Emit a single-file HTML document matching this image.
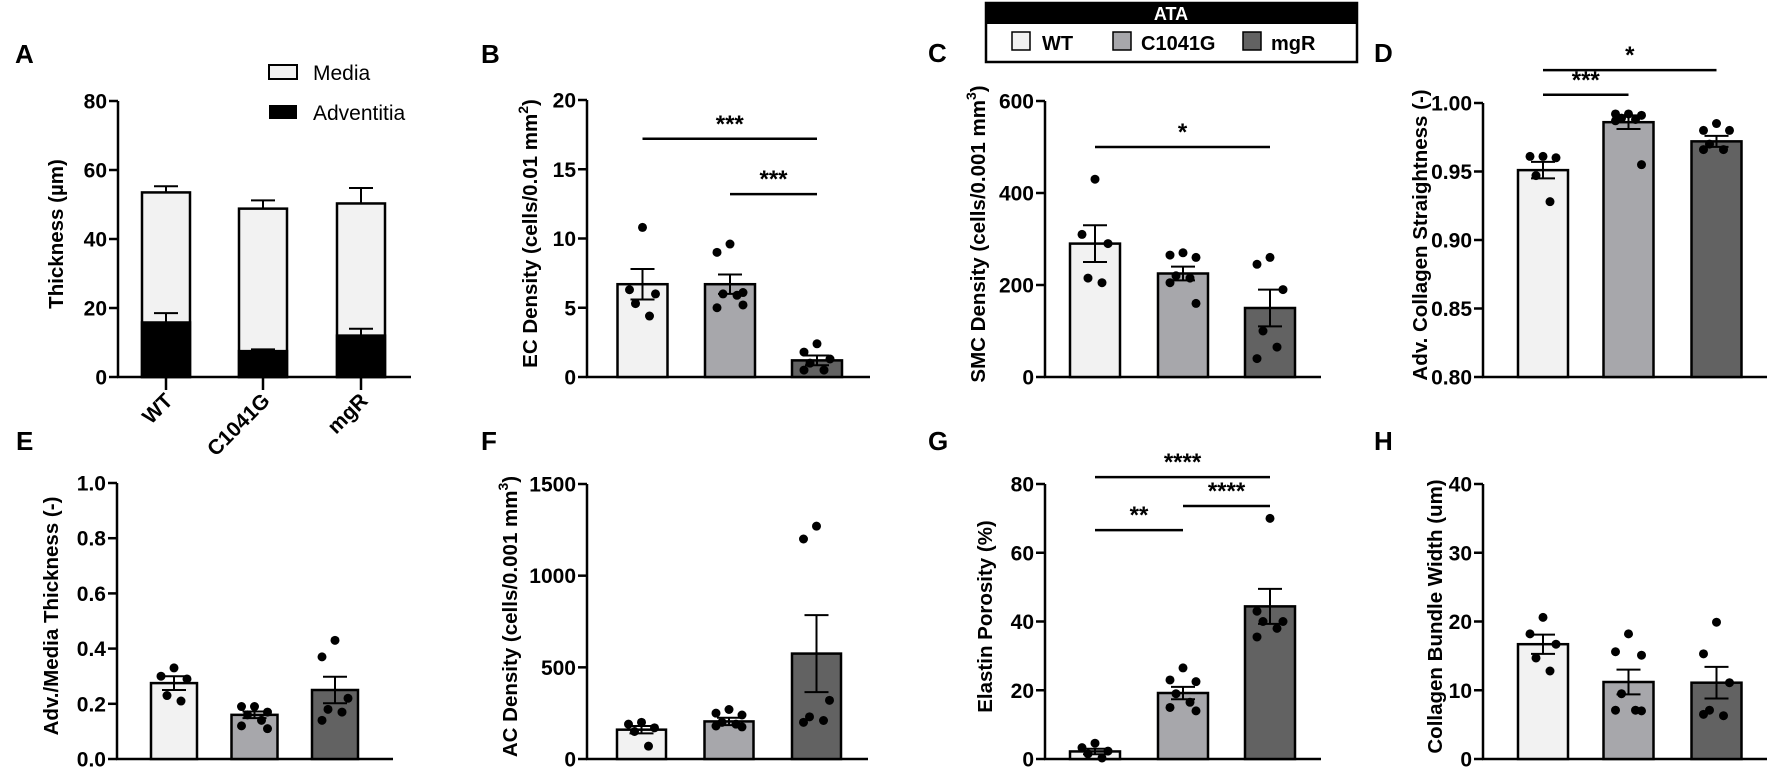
<!DOCTYPE html>
<html><head><meta charset="utf-8">
<style>
body{margin:0;background:#fff;}
svg{display:block;font-family:"Liberation Sans",Arial,sans-serif;}
</style></head>
<body>
<svg id="fig" width="1772" height="779" viewBox="0 0 1772 779" xmlns="http://www.w3.org/2000/svg">
<g font-weight="bold" font-size="26">
<text x="15" y="63">A</text>
<text x="481" y="63">B</text>
<text x="928" y="62">C</text>
<text x="1374" y="62">D</text>
<text x="16" y="450">E</text>
<text x="481" y="450">F</text>
<text x="928" y="450">G</text>
<text x="1374" y="450">H</text>
</g>
<g>
<rect x="986" y="3" width="371" height="59" fill="#fff" stroke="#000" stroke-width="2.5"/>
<rect x="986" y="3" width="371" height="21" fill="#000"/>
<text x="1171" y="20" fill="#fff" font-weight="bold" font-size="18" text-anchor="middle">ATA</text>
<rect x="1012" y="32" width="18" height="18" fill="#f2f2f2" stroke="#000" stroke-width="1.5"/>
<text x="1042" y="50" font-weight="bold" font-size="20">WT</text>
<rect x="1113" y="32" width="18" height="18" fill="#a7a7ab" stroke="#000" stroke-width="1.5"/>
<text x="1141" y="50" font-weight="bold" font-size="20">C1041G</text>
<rect x="1243" y="32" width="18" height="18" fill="#626262" stroke="#000" stroke-width="1.5"/>
<text x="1271" y="50" font-weight="bold" font-size="20">mgR</text>
</g>
<g>
<rect x="269" y="65" width="28" height="14" fill="#f2f2f2" stroke="#000" stroke-width="2"/>
<text x="313" y="80" font-size="21">Media</text>
<rect x="269" y="105" width="28" height="14" fill="#000"/>
<text x="313" y="120" font-size="21">Adventitia</text>
</g>
</svg>
<script>
// ---- data ----
const categories = ['WT','C1041G','mgR'];
// Panel A (stacked)
const aMedia = [53.5, 48.8, 50.3];
const aMediaErr = [1.8, 2.4, 4.5];
const aAdv = [15.8, 7.5, 12.0];
const aAdvErr = [2.7, 0.5, 2.0];
const aTicks = [0,20,40,60,80];
// Panel B
const bMeans = [6.7, 6.7, 1.2];
const bSems = [1.1, 0.7, 0.35];
const bPoints = [[10.8,6.3,6.0,5.3,4.4],[9.6,9.0,6.1,6.0,5.9,5.0,5.2],[2.4,1.8,1.3,1.0,0.5,0.5]];
const bTicks = [0,5,10,15,20];
// Panel C
const cMeans = [290, 225, 150];
const cSems = [40, 15, 40];
const cPoints = [[430,310,290,215,205],[270,265,260,220,215,205,160],[260,245,190,100,65,40]];
const cTicks = [0,200,400,600];
// Panel D
const dMeans = [0.951, 0.986, 0.972];
const dSems = [0.006, 0.005, 0.004];
const dPoints = [[0.961,0.961,0.960,0.947,0.928],[0.992,0.992,0.991,0.989,0.988,0.987,0.955],[0.985,0.980,0.980,0.970,0.966,0.966]];
const dTicks = [0.80,0.85,0.90,0.95,1.00];
// Panel E
const eMeans = [0.275, 0.16, 0.25];
const eSems = [0.025, 0.012, 0.048];
const ePoints = [[0.33,0.30,0.29,0.23,0.21],[0.19,0.19,0.17,0.16,0.14,0.12,0.11],[0.43,0.37,0.22,0.18,0.17,0.14]];
const eTicks = [0.0,0.2,0.4,0.6,0.8,1.0];
// Panel F
const fMeans = [160, 205, 575];
const fSems = [20, 20, 210];
const fPoints = [[200,190,170,150,70],[270,250,240,200,190,180,175],[1270,1200,320,230,210,200]];
const fTicks = [0,500,1000,1500];
// Panel G
const gMeans = [2.2, 19.2, 44.4];
const gSems = [0.8, 1.8, 5.1];
const gPoints = [[4.6,3.3,2.3,1.5,0.3],[26.5,23,22.5,19,16.5,15,14],[70,43,40,40,38,35.5]];
const gTicks = [0,20,40,60,80];
// Panel H
const hMeans = [16.7, 11.2, 11.1];
const hSems = [1.4, 1.8, 2.3];
const hPoints = [[20.6,18.2,16.7,14.7,12.8],[18.2,15.6,15.1,9.5,7.1,7.1,7.0],[19.9,15.3,11.1,7.1,6.3,6.5]];
const hTicks = [0,10,20,30,40];
// significance brackets: [fromIndex, toIndex, yValue, label]
const bSig = [[0,2,17.2,'***'],[1,2,13.2,'***']];
const cSig = [[0,2,500,'*']];
const dSig = [[0,1,1.006,'***'],[0,2,1.024,'*']];
const gSig = [[0,2,82,'****'],[1,2,73.6,'****'],[0,1,66.6,'**']];

const fills = ['#f2f2f2','#a7a7ab','#626262'];
const NS='http://www.w3.org/2000/svg';
const svg=document.getElementById('fig');
function mk(tag,attrs,parent){const e=document.createElementNS(NS,tag);for(const k in attrs)e.setAttribute(k,attrs[k]);(parent||svg).appendChild(e);return e;}

function axes(p,g){
  const y=v=>p.yb-(v-p.min)/(p.max-p.min)*(p.yb-p.yt);
  mk('line',{x1:p.ax,x2:p.ax,y1:p.yt,y2:p.yb+1,stroke:'#000','stroke-width':2.5},g);
  mk('line',{x1:p.ax-1,x2:p.ar,y1:p.yb,y2:p.yb,stroke:'#000','stroke-width':2.5},g);
  p.ticks.forEach(t=>{
    mk('line',{x1:p.ax-9,x2:p.ax,y1:y(t),y2:y(t),stroke:'#000','stroke-width':2.5},g);
    const tx=mk('text',{x:p.ax-11,y:y(t)+7.5,'text-anchor':'end','font-size':21,'font-weight':'bold'},g);
    
    
    tx.textContent=p.fmt(t);
  });
  const ttl=mk('text',{x:0,y:0,transform:`translate(${p.tx},${(p.yt+p.yb)/2-5}) rotate(-90)`,'text-anchor':'middle','font-size':20.5,'font-weight':'bold'},g);
  
  
  if(p.title2){ttl.textContent=p.title;const s=mk('tspan',{dy:-9,'font-size':14},ttl);s.textContent=p.title2;const s2=mk('tspan',{dy:9},ttl);s2.textContent=')';}
  else ttl.textContent=p.title;
  return y;
}

const jit=[0,-13,13,-7,7,-13,13];
function panel(p,means,sems,pts,sig){
  const g=mk('g',{});
  
  
  const y=axes(p,g);
  const bw=p.bw;
  means.forEach((m,i)=>{
    const cx=p.bx[i];
    const r=mk('rect',{x:cx-bw/2,y:y(m),width:bw,height:p.yb-y(m),fill:fills[i],stroke:'#000','stroke-width':2.5},g);
    
    
    pts[i].forEach((v,j)=>{
      const c=mk('circle',{cx:cx+jit[j%jit.length],cy:y(v),r:4.5,fill:'#000'},g);
      
      
    });
    const e=mk('path',{d:`M${cx},${y(m-sems[i])}V${y(m+sems[i])}M${cx-12},${y(m+sems[i])}H${cx+12}M${cx-12},${y(m-sems[i])}H${cx+12}`,stroke:'#000','stroke-width':2,fill:'none'},g);
    
    
  });
  (sig||[]).forEach(s=>{
    const x1=p.bx[s[0]],x2=p.bx[s[1]],yy=y(s[2]);
    const l=mk('line',{x1:x1,x2:x2,y1:yy,y2:yy,stroke:'#000','stroke-width':2.5},g);
    
    
    const t=mk('text',{x:(x1+x2)/2,y:yy-7,'text-anchor':'middle','font-size':24,'font-weight':'bold'},g);
    
    
    t.textContent=s[3];
  });
}

const fmt0=t=>String(t);
const topX=[642.5,730,817];
const cX=[1095,1183,1270];
const dX=[1543,1628.5,1716.5];
// Panel A
(function(){
  const p={ax:118,ar:411,yt:101,yb:377,min:0,max:80,ticks:aTicks,fmt:fmt0,tx:63,title:'Thickness (µm)'};
  const g=mk('g',{});
  
  
  const y=axes(p,g);
  const ax=[166,263,361];
  categories.forEach((c,i)=>{
    const x=ax[i],bw=48;
    const m=mk('rect',{x:x-bw/2,y:y(aMedia[i]),width:bw,height:p.yb-y(aMedia[i]),fill:'#f2f2f2',stroke:'#000','stroke-width':2.5},g);
    
    
    const e1=mk('path',{d:`M${x},${y(aMedia[i])}V${y(aMedia[i]+aMediaErr[i])}M${x-12},${y(aMedia[i]+aMediaErr[i])}H${x+12}`,stroke:'#000','stroke-width':2,fill:'none'},g);
    
    
    const a=mk('rect',{x:x-bw/2,y:y(aAdv[i]),width:bw,height:p.yb-y(aAdv[i]),fill:'#000',stroke:'#000','stroke-width':2.5},g);
    
    
    const e2=mk('path',{d:`M${x},${y(aAdv[i])}V${y(aAdv[i]+aAdvErr[i])}M${x-12},${y(aAdv[i]+aAdvErr[i])}H${x+12}`,stroke:'#000','stroke-width':2,fill:'none'},g);
    
    
    mk('line',{x1:x,x2:x,y1:377,y2:390,stroke:'#000','stroke-width':2.5},g);
    const t=mk('text',{x:0,y:0,transform:`translate(${x+8},${402}) rotate(-45)`,'text-anchor':'end','font-size':21,'font-weight':'bold'},g);
    
    
    t.textContent=c;
  });
})();
panel({name:'panel-b-ec-density',ax:587,ar:870,yt:100,yb:377,min:0,max:20,ticks:bTicks,fmt:fmt0,tx:537,title:'EC Density (cells/0.01 mm',title2:'2',bx:topX,bw:50},bMeans,bSems,bPoints,bSig);
panel({name:'panel-c-smc-density',ax:1045,ar:1321,yt:101,yb:377,min:0,max:600,ticks:cTicks,fmt:fmt0,tx:985,title:'SMC Density (cells/0.001 mm',title2:'3',bx:cX,bw:50},cMeans,cSems,cPoints,cSig);
panel({name:'panel-d-collagen-straightness',ax:1483,ar:1767,yt:103,yb:377,min:0.8,max:1.0,ticks:dTicks,fmt:t=>t.toFixed(2),tx:1427,title:'Adv. Collagen Straightness (-)',bx:dX,bw:50},dMeans,dSems,dPoints,dSig);
panel({name:'panel-e-thickness-ratio',ax:117,ar:393,yt:483,yb:759,min:0,max:1,ticks:eTicks,fmt:t=>t.toFixed(1),tx:58,title:'Adv./Media Thickness (-)',bx:[174,254.5,335],bw:46},eMeans,eSems,ePoints);
panel({name:'panel-f-ac-density',ax:587,ar:868,yt:484,yb:759,min:0,max:1500,ticks:fTicks,fmt:fmt0,tx:517,title:'AC Density (cells/0.001 mm',title2:'3',bx:[641.5,729,816.5],bw:49},fMeans,fSems,fPoints);
panel({name:'panel-g-elastin-porosity',ax:1045,ar:1321,yt:484,yb:759,min:0,max:80,ticks:gTicks,fmt:fmt0,tx:992,title:'Elastin Porosity (%)',bx:cX,bw:50},gMeans,gSems,gPoints,gSig);
panel({name:'panel-h-bundle-width',ax:1483,ar:1767,yt:484,yb:759,min:0,max:40,ticks:hTicks,fmt:fmt0,tx:1442,title:'Collagen Bundle Width (um)',bx:dX,bw:50},hMeans,hSems,hPoints);
</script>
</body></html>
